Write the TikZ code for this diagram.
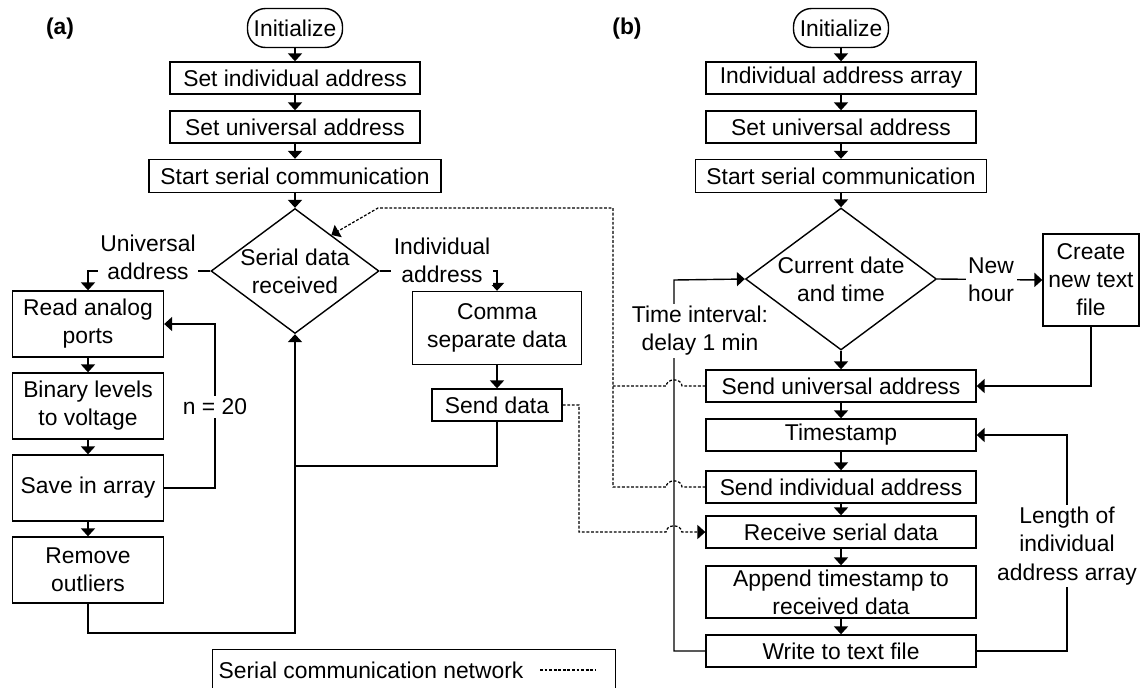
\documentclass[tikz,border=0pt]{standalone}
\usepackage{fontspec}
\setmainfont{Liberation Sans}
\usetikzlibrary{calc}
\usetikzlibrary{arrows.meta}
\usetikzlibrary{shapes}
\tikzset{
	every path/.style={thick},
	align=center,
	font=\fontsize{13}{16}\selectfont,
	proc/.style={
		draw,
		rectangle,
		inner sep=1pt,
		minimum height=0.64cm,
	},
	term/.style={
		draw,
		rectangle,
		rounded corners=0.36cm,
		inner sep=0pt,
		minimum width=1.9cm,
		minimum height=0.78cm,
	},
	decision/.style={
		draw,
		diamond,
		aspect=1.34,
		inner sep=-2pt,
	},
	flow/.style={
		-{Triangle[length=4.5pt,width=8pt]}
	},
	serial/.style={
		line width=0.7pt,
		dash pattern=on 1.6pt off 1pt,
	},
	lbl/.style={fill=white, inner sep=1.5pt},
	panel/.style={font=\fontsize{13}{16}\selectfont\bfseries},
}

\begin{document}
\begin{tikzpicture}[x=0.02cm, y=-0.02cm]
		\useasboundingbox (0,0) rectangle (1145,687);

		% (a) sensor node
		\node[panel]    (labA) at (60,29) {(a)};
		\node[term]     (initA) at (295,28) {Initialize};
		\node[proc, minimum width=5cm]    (indA) at (295,78) {Set individual address};
		\node[proc, minimum width=5cm]    (uniA) at (295,127) {Set universal address};
		\node[proc, minimum width=5.84cm, minimum height=0.66cm] (serA) at (295,176) {Start serial communication};
		\node[decision, minimum width=3.36cm, minimum height=2.5cm] (recvA) at (295,271) {Serial data\\received};

		\node[proc, minimum width=3.02cm, minimum height=1.32cm] (readA) at (88,324) {Read analog\\ports};
		\node[proc, minimum width=3.02cm, minimum height=1.32cm] (voltA) at (88,406) {Binary levels\\to voltage};
		\node[proc, minimum width=3.02cm, minimum height=1.32cm] (saveA) at (88,488) {Save in array};
		\node[proc, minimum width=3.02cm, minimum height=1.32cm] (outA) at (88,570) {Remove\\outliers};

		\node[proc, minimum width=3.38cm, minimum height=1.46cm] (commaA) at (497,328) {Comma\\separate data};
		\node[proc, minimum width=2.6cm]  (sendA) at (497,405) {Send data};

		\draw[flow] (initA) -- (indA);
		\draw[flow] (indA) -- (uniA);
		\draw[flow] (uniA) -- (serA);
		\draw[flow] (serA) -- (recvA);
		\draw[flow] (recvA.west) -| (readA.north);
		\draw[flow] (readA) -- (voltA);
		\draw[flow] (voltA) -- (saveA);
		\draw[flow] (saveA) -- (outA);
		\draw[flow] (saveA.east) -- (215,488) |- (readA.east);
		\draw[flow] (outA.south) |- (295,633) -- (recvA.south);
		\draw[flow] (recvA.east) -| (commaA.north);
		\draw[flow] (commaA) -- (sendA);
		\draw       (sendA.south) |- (295,466);

		\node[lbl] (uniLbl) at (148,257) {Universal\\address};
		\node[lbl] (indLbl) at (442,260) {Individual\\address};
		\node[lbl] (nLbl) at (215,407) {n = 20};

		% (b) logger
		\node[panel]    (labB) at (627,29) {(b)};
		\node[term]     (initB) at (841,28) {Initialize};
		\node[proc, minimum width=5.4cm]  (arrB) at (841,78) {Individual address array};
		\node[proc, minimum width=5.4cm]  (uniB) at (841,127) {Set universal address};
		\node[proc, minimum width=5.82cm, minimum height=0.66cm] (serB) at (841,176) {Start serial communication};
		\node[decision, minimum width=3.82cm, minimum height=2.84cm] (timeB) at (841,279) {Current date\\and time};
		\node[proc, minimum width=1.92cm, minimum height=1.84cm] (fileB) at (1091,280) {Create\\new text\\file};

		\node[proc, minimum width=5.4cm]  (suB) at (841,386) {Send universal address};
		\node[proc, minimum width=5.4cm]  (tsB) at (841,435) {Timestamp};
		\node[proc, minimum width=5.4cm]  (siB) at (841,487) {Send individual address};
		\node[proc, minimum width=5.4cm]  (rxB) at (841,532) {Receive serial data};
		\node[proc, minimum width=5.4cm, minimum height=1.04cm] (appB) at (841,592) {Append timestamp to\\received data};
		\node[proc, minimum width=5.4cm]  (wrB) at (841,651) {Write to text file};

		\draw[flow] (initB) -- (arrB);
		\draw[flow] (arrB) -- (uniB);
		\draw[flow] (uniB) -- (serB);
		\draw[flow] (serB) -- (timeB);
		\draw[flow] (timeB) -- (suB);
		\draw[flow] (timeB.east) -- (fileB.west);
		\draw[flow] (fileB.south) |- (suB.east);
		\draw[flow] (suB) -- (tsB);
		\draw[flow] (tsB) -- (siB);
		\draw[flow] (siB) -- (rxB);
		\draw[flow] (rxB) -- (appB);
		\draw[flow] (appB) -- (wrB);
		\draw[flow] (wrB.west) -| (674,280) -- (timeB.west);
		\draw[flow] (wrB.east) -| (1067,435) -- (tsB.east);

		\node[lbl] (hourLbl) at (991,280) {New\\hour};
		\node[lbl] (delayLbl) at (700,331) {Time interval:\\delay 1 min};
		\node[lbl] (lenLbl) at (1067,546) {Length of\\individual\\address array};

		% serial network
		\coordinate (hitA) at ($(recvA.north)!0.43!(recvA.east)$);
		\draw[serial, flow] (siB.west) -- (682,487) arc[start angle=0, end angle=180, x radius=4.5pt, y radius=3.5pt]
			-- (613,487) -- (613,208) -- (378,208) -- (hitA);
		\draw[serial] (suB.west) -- (682,386) arc[start angle=0, end angle=180, x radius=4.5pt, y radius=3.5pt]
			-- (613,386);
		\draw[serial, flow] (sendA.east) -- (579,405) -- (579,532) -- (666,532)
			arc[start angle=180, end angle=0, x radius=4.5pt, y radius=3.5pt] -- (rxB.west);

		% legend
		\node[draw, rectangle, anchor=north west, minimum width=8.06cm, minimum height=1.2cm] (legend) at (212,649) {};
		\node[anchor=west, inner sep=0pt] (legTxt) at (218,670) {Serial communication network};
		\coordinate (legA) at (540,670);
		\coordinate (legB) at (595,670);
		\draw[serial] (legA) -- (legB);

	\end{tikzpicture}
\end{document}
